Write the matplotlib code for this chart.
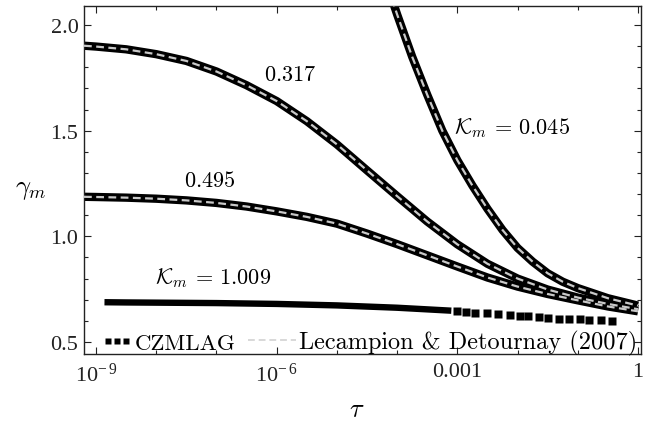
import numpy as np
import matplotlib.pyplot as plt
from matplotlib.lines import Line2D
from matplotlib.ticker import FixedLocator, FixedFormatter, NullFormatter

plt.rcParams['font.family'] = 'Liberation Serif'
plt.rcParams['mathtext.fontset'] = 'cm'

# log10(tau) sample points shared by the two slower-decaying curves
logtau = [-9.2, -9.0, -8.5, -8.0, -7.5, -7.0, -6.5, -6.0, -5.5, -5.0,
          -4.5, -4.0, -3.5, -3.0, -2.5, -2.0, -1.5, -1.0, -0.5, 0.0]
gamma_0317 = [1.902, 1.898, 1.885, 1.862, 1.830, 1.780, 1.715, 1.640, 1.545, 1.435,
              1.312, 1.190, 1.070, 0.962, 0.870, 0.800, 0.748, 0.710, 0.680, 0.655]
gamma_0495 = [1.187, 1.186, 1.183, 1.178, 1.170, 1.158, 1.141, 1.118, 1.092, 1.060,
              1.013, 0.963, 0.910, 0.857, 0.805, 0.762, 0.727, 0.697, 0.668, 0.645]

# K_m = 0.045 only enters the window late
logtau_0045 = [-4.2, -4.0, -3.75, -3.5, -3.25, -3.0, -2.75, -2.5, -2.25, -2.0,
               -1.75, -1.5, -1.25, -1.0, -0.5, 0.0]
gamma_0045 = [2.22, 2.05, 1.85, 1.67, 1.50, 1.36, 1.24, 1.13, 1.03, 0.945,
              0.88, 0.825, 0.785, 0.755, 0.707, 0.672]

# K_m = 1.009: densely sampled part, then the sparse tail
logtau_1009 = [-8.86, -8.5, -8.0, -7.0, -6.0, -5.0, -4.0, -3.1]
gamma_1009 = [0.688, 0.687, 0.686, 0.684, 0.680, 0.673, 0.662, 0.648]
logtau_1009_tail = [-3.0, -2.85, -2.70, -2.51, -2.32, -2.12, -1.96, -1.82,
                    -1.65, -1.49, -1.31, -1.14, -0.97, -0.81, -0.62, -0.43]
gamma_1009_tail = [0.646, 0.643, 0.639, 0.636, 0.632, 0.628, 0.625, 0.622,
                   0.618, 0.614, 0.611, 0.609, 0.607, 0.605, 0.603, 0.601]

xticks = [1e-9, 1e-6, 1e-3, 1]
xticklabels = [r'$\mathregular{10^{-\,9}}$', r'$\mathregular{10^{-\,6}}$', '0.001', '1']
yticks = [0.5, 1.0, 1.5, 2.0]
yticklabels = ['0.5', '1.0', '1.5', '2.0']

fig = plt.figure(figsize=(6.51, 4.27), dpi=100)
ax = fig.add_axes([84/651, 1 - 355/427, 557/651, 348/427])

num_col = 'black'
ana_col = '#c8c8c8'

for lt, g in [(logtau, gamma_0317), (logtau, gamma_0495), (logtau_0045, gamma_0045)]:
    t = 10.0**np.array(lt)
    ax.plot(t, g, color=num_col, lw=6.0, solid_capstyle='butt',
            solid_joinstyle='round', zorder=2)
    ax.plot(t, g, color=ana_col, lw=1.6, dashes=(3.5, 2), zorder=3)

ax.plot(10.0**np.array(logtau_1009), gamma_1009, color=num_col, lw=4.6,
        solid_capstyle='butt', zorder=2)
ax.plot(10.0**np.array(logtau_1009_tail), gamma_1009_tail, ls='none', marker='s',
        ms=5.2, mec='none', color=num_col, zorder=2)

ax.set_xscale('log')
ax.set_xlim(10**-9.2, 10**0.05)
ax.set_ylim(0.443, 2.09)

ax.xaxis.set_major_locator(FixedLocator(xticks))
ax.xaxis.set_major_formatter(FixedFormatter(xticklabels))
ax.xaxis.set_minor_locator(FixedLocator([10.0**k for k in range(-9, 1)]))
ax.xaxis.set_minor_formatter(NullFormatter())
ax.yaxis.set_major_locator(FixedLocator(yticks))
ax.yaxis.set_major_formatter(FixedFormatter(yticklabels))
ax.yaxis.set_minor_locator(FixedLocator(np.arange(0.5, 2.05, 0.1)))

ax.tick_params(which='both', direction='in', top=True, right=True, width=0.8,
               labelsize=16, colors='#222222')
ax.tick_params(which='major', length=5)
ax.tick_params(which='minor', length=3)
ax.tick_params(axis='x', pad=6)
ax.tick_params(axis='y', pad=4)
for s in ax.spines.values():
    s.set_linewidth(1.0)
    s.set_color('#222222')

ax.set_xlabel(r'$\tau$', fontsize=19, va='center')
ax.xaxis.set_label_coords(0.49, -0.16)
ax.set_ylabel(r'$\gamma_m$', fontsize=19, rotation=0, va='center', ha='center')
ax.yaxis.set_label_coords(-0.095, 0.474)

ann = dict(fontsize=16, ha='center', va='center')
ax.text(10**-5.78, 1.763, r'$0.317$', **ann)
ax.text(10**-7.12, 1.262, r'$0.495$', **ann)
ax.text(10**-2.09, 1.517, r'$\mathcal{K}_m\,=\,0.045$', **ann)
ax.text(10**-7.06, 0.807, r'$\mathcal{K}_m\,=\,1.009$', **ann)

h_num = Line2D([], [], ls='none', marker='s', ms=5.0, mec='none', color=num_col)
h_ana = Line2D([], [], color='#d8d8d8', lw=1.4, dashes=(3.5, 2))
leg1 = ax.legend([h_num], ['CZMLAG'], loc='center left', bbox_to_anchor=(0.03, 0.032),
                 frameon=False, borderaxespad=0, borderpad=0, handlelength=1.4,
                 handletextpad=0.1, numpoints=3,
                 prop={'family': 'cmr10', 'size': 16.5})
ax.add_artist(leg1)
ax.legend([h_ana], ['Lecampion & Detournay (2007)'], loc='center right',
          bbox_to_anchor=(0.993, 0.032), frameon=False, borderaxespad=0, borderpad=0,
          handlelength=2.0, handletextpad=0.1,
          prop={'family': 'cmr10', 'size': 17.5})

fig.savefig('out.png', dpi=100)
